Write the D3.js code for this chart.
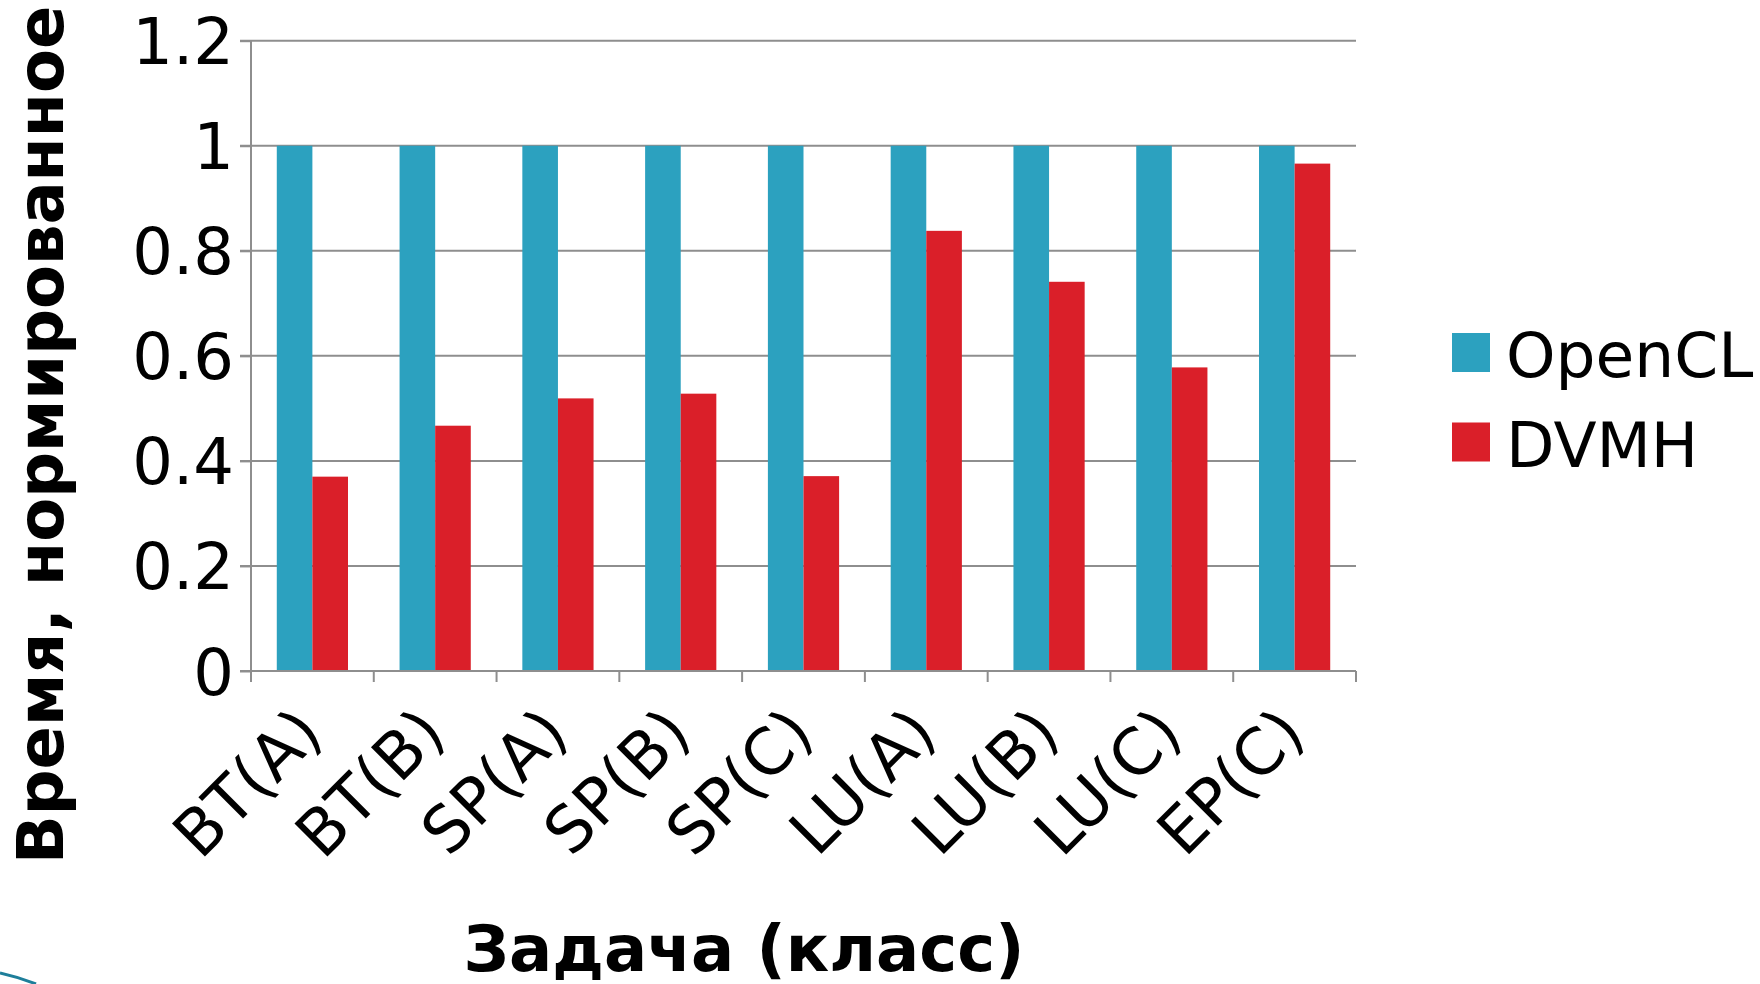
<!DOCTYPE html>
<html>
<head>
<meta charset="utf-8">
<script src="https://cdn.jsdelivr.net/npm/d3@7"></script>
<style>
  html, body { margin: 0; padding: 0; background: #fff; }
  svg { display: block; }
  text { font-family: "DejaVu Sans", sans-serif; fill: #000; }
</style>
</head>
<body>
<svg id="chart" width="1760" height="984"></svg>
<script>
const categories = ["BT(A)", "BT(B)", "SP(A)", "SP(B)", "SP(C)", "LU(A)", "LU(B)", "LU(C)", "EP(C)"];
const seriesNames = ["OpenCL", "DVMH"];
const openclValues = [1, 1, 1, 1, 1, 1, 1, 1, 1];
const dvmhValues = [0.37, 0.467, 0.519, 0.528, 0.371, 0.838, 0.741, 0.578, 0.966];
const yTicks = [0, 0.2, 0.4, 0.6, 0.8, 1, 1.2];
const yTickLabels = ["0", "0.2", "0.4", "0.6", "0.8", "1", "1.2"];
const colors = ["#2CA1BF", "#DA1F29"];
const yTitle = "Время, нормированное";
const xTitle = "Задача (класс)";

const svg = d3.select("#chart");
const plot = { left: 251, right: 1356, top: 40.7, bottom: 671 };
const gridColor = "#8E8E8E";

const x0 = d3.scaleBand().domain(categories).range([plot.left, plot.right]).padding(0);
const bw = x0.bandwidth();
const x1 = d3.scaleBand().domain(seriesNames).range([bw * 0.21, bw * 0.79]).padding(0);
const y = d3.scaleLinear().domain([0, 1.2]).range([plot.bottom, plot.top]);

// gridlines
svg.append("g").selectAll("line").data(yTicks.filter(d => d > 0)).join("line")
  .attr("x1", plot.left - 11).attr("x2", plot.right)
  .attr("y1", d => y(d)).attr("y2", d => y(d))
  .attr("stroke", gridColor).attr("stroke-width", 2);

// bars
const rows = categories.map((c, i) => ({ cat: c, vals: [openclValues[i], dvmhValues[i]] }));
const groups = svg.append("g").selectAll("g").data(rows).join("g")
  .attr("transform", d => `translate(${x0(d.cat)},0)`);
groups.selectAll("rect").data(d => d.vals.map((v, j) => ({ s: seriesNames[j], v, j }))).join("rect")
  .attr("x", d => x1(d.s))
  .attr("width", x1.bandwidth())
  .attr("y", d => y(d.v))
  .attr("height", d => y(0) - y(d.v))
  .attr("fill", d => colors[d.j]);

// y axis
const yAxis = d3.axisLeft(y).tickValues(yTicks).tickFormat((d, i) => yTickLabels[i]).tickSize(11).tickPadding(6);
const gy = svg.append("g").attr("transform", `translate(${plot.left},0)`).call(yAxis);
gy.select(".domain").attr("stroke", gridColor).attr("stroke-width", 2).attr("d", `M0,${plot.top}V${plot.bottom}`);
gy.selectAll(".tick line").attr("stroke", gridColor).attr("stroke-width", 2);
gy.selectAll(".tick text").attr("font-size", 64).attr("font-family", "DejaVu Sans").attr("fill", "#000").attr("dy", "0.36em").attr("x", -17);

// x axis
const xAxis = d3.axisBottom(x0).tickSize(0).tickFormat("");
const gx = svg.append("g").attr("transform", `translate(0,${plot.bottom})`).call(xAxis);
gx.select(".domain").attr("stroke", gridColor).attr("stroke-width", 2).attr("d", `M${plot.left - 11},0H${plot.right}`);
gx.selectAll(".tick").remove();
const boundaries = categories.map(c => x0(c)).concat([plot.right]);
gx.append("g").selectAll("line").data(boundaries).join("line")
  .attr("x1", d => d).attr("x2", d => d).attr("y1", 0).attr("y2", 11)
  .attr("stroke", gridColor).attr("stroke-width", 2);
gx.append("g").selectAll("text").data(categories).join("text")
  .attr("transform", d => `translate(${x0(d) + bw / 2 + 13},65) rotate(-45)`)
  .attr("text-anchor", "end")
  .attr("font-size", 64)
  .text(d => d);

// axis titles
svg.append("text")
  .attr("transform", `translate(63,864) rotate(-90)`)
  .attr("text-anchor", "start")
  .attr("font-size", 64).attr("font-weight", "bold")
  .text(yTitle);
svg.append("text")
  .attr("x", 744).attr("y", 971)
  .attr("text-anchor", "middle")
  .attr("font-size", 64).attr("font-weight", "bold")
  .text(xTitle);

// legend
const legend = svg.append("g").selectAll("g").data(seriesNames).join("g")
  .attr("transform", (d, i) => `translate(1452,${333 + i * 89.5})`);
legend.append("rect").attr("width", 38).attr("height", 39).attr("fill", (d, i) => colors[i]);
legend.append("text").attr("x", 54).attr("y", 44).attr("font-size", 63).text(d => d);

// slide decoration fragment at bottom-left
svg.append("path").attr("d", "M0,973 Q18,977 36,984").attr("fill", "none").attr("stroke", "#1E7E9A").attr("stroke-width", 3);
</script>
</body>
</html>
